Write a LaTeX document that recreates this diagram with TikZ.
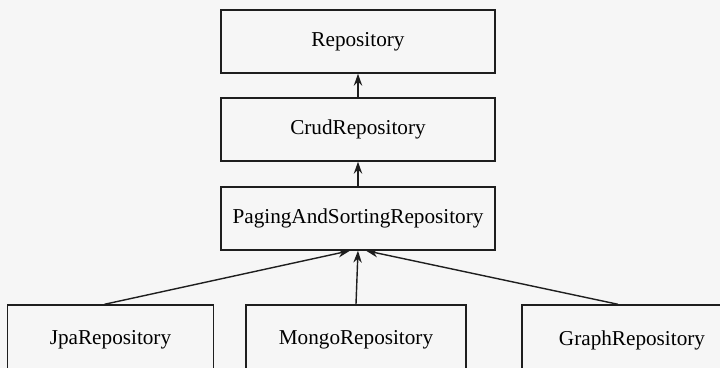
\documentclass[tikz,border=0pt]{standalone}
\usepackage{fontspec}
\setmainfont{Liberation Serif}
\definecolor{linegray}{RGB}{30, 30, 30}
\definecolor{paper}{RGB}{246, 246, 246}
\usetikzlibrary{arrows.meta, positioning, calc}

\begin{document}
\begin{tikzpicture}[
  x=0.5pt, y=-0.5pt,
  rbox/.style={draw=linegray, line width=0.7pt, minimum width=137pt, minimum height=31.5pt, inner sep=0pt, font=\fontsize{10.6}{12}\selectfont},
  lbox/.style={rbox, minimum width=103pt, minimum height=35pt},
  inherit/.style={draw=linegray, line width=0.7pt, -{Stealth[length=6pt, width=4.2pt]}}
]
  \fill[paper] (0,0) rectangle (720,368);
  \useasboundingbox (0,0) rectangle (720,368);
  \clip (0,0) rectangle (720,368);
  % stack of repository interfaces
  \node[rbox] (repo) at (358, 41.5) {Repository};
  \node[rbox] (crud) at (358, 129.5) {CrudRepository};
  \node[rbox] (paging) at (358, 218.5) {PagingAndSortingRepository};
  % store-specific repositories
  \node[lbox] (jpa) at (110.5, 340) {JpaRepository};
  \node[lbox, minimum width=110pt] (mongo) at (356, 340) {MongoRepository};
  \node[lbox, minimum width=110pt] (graph) at (632, 340) {GraphRepository};
  % inheritance arrows
  \draw[inherit] (crud.north) -- (repo.south);
  \draw[inherit] (paging.north) -- (crud.south);
  \draw[inherit] (mongo.north) -- (paging.south);
  \draw[inherit] ($(jpa.north)+(-6,0)$) -- ($(paging.south)+(-8,0)$);
  \draw[inherit] ($(graph.north)+(-14,0)$) -- ($(paging.south)+(8,0)$);
\end{tikzpicture}
\end{document}
